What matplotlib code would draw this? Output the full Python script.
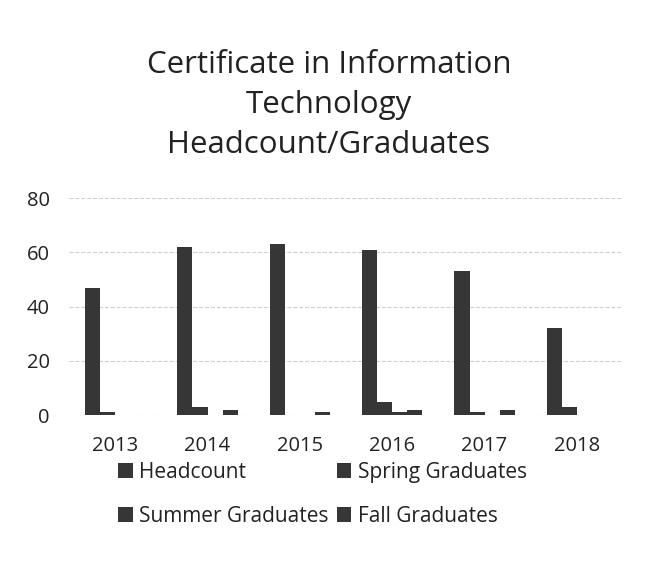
import numpy as np
import matplotlib.pyplot as plt

# donnees
years = ['2013', '2014', '2015', '2016', '2017', '2018']
headcount = [47, 62, 63, 61, 53, 32]
spring = [1, 3, 0, 5, 1, 3]
summer = [0, 0, 0, 1, 0, 0]
fall = [0, 2, 1, 2, 2, 0]
series_names = ['Headcount', 'Spring Graduates', 'Summer Graduates', 'Fall Graduates']

plt.rcParams['font.family'] = ['Open Sans', 'DejaVu Sans']

fig = plt.figure(figsize=(6.45, 5.83), dpi=100)
ax = fig.add_axes([0.107, 0.288, 0.859, 0.372])

x = np.arange(len(years))
w = 0.163
dark = '#363636'
bars = []
for i, vals in enumerate([headcount, spring, summer, fall]):
    b = ax.bar(x + (i - 1.5) * w, vals, w, color=dark, label=series_names[i], zorder=3)
    bars.append(b)

ax.set_ylim(0, 80)
ax.set_yticks([0, 20, 40, 60, 80])
ax.set_xlim(-0.5, len(years) - 0.5)
ax.set_xticks(x)
ax.set_xticklabels(years)
ax.tick_params(axis='both', length=0, labelsize=14.5, colors='#222222')
ax.tick_params(axis='x', pad=15)
ax.tick_params(axis='y', pad=14)
ax.grid(axis='y', color='#d0d0d0', linestyle='--', linewidth=0.8, zorder=0)
for s in ax.spines.values():
    s.set_visible(False)

fig.text(0.51, 0.82, 'Certificate in Information\nTechnology\nHeadcount/Graduates',
         ha='center', va='center', fontsize=22.5, color='#222222', linespacing=1.45)

# ordre ligne par ligne comme dans l'original
order = [0, 2, 1, 3]
fig.legend([bars[i] for i in order], [series_names[i] for i in order],
           loc='center', bbox_to_anchor=(0.5, 0.152), ncol=2,
           frameon=False, fontsize=15, handlelength=0.7, handleheight=0.7,
           handletextpad=0.3, columnspacing=0.4, labelspacing=1.1,
           labelcolor='#222222')

fig.savefig('out.png', dpi=100)
